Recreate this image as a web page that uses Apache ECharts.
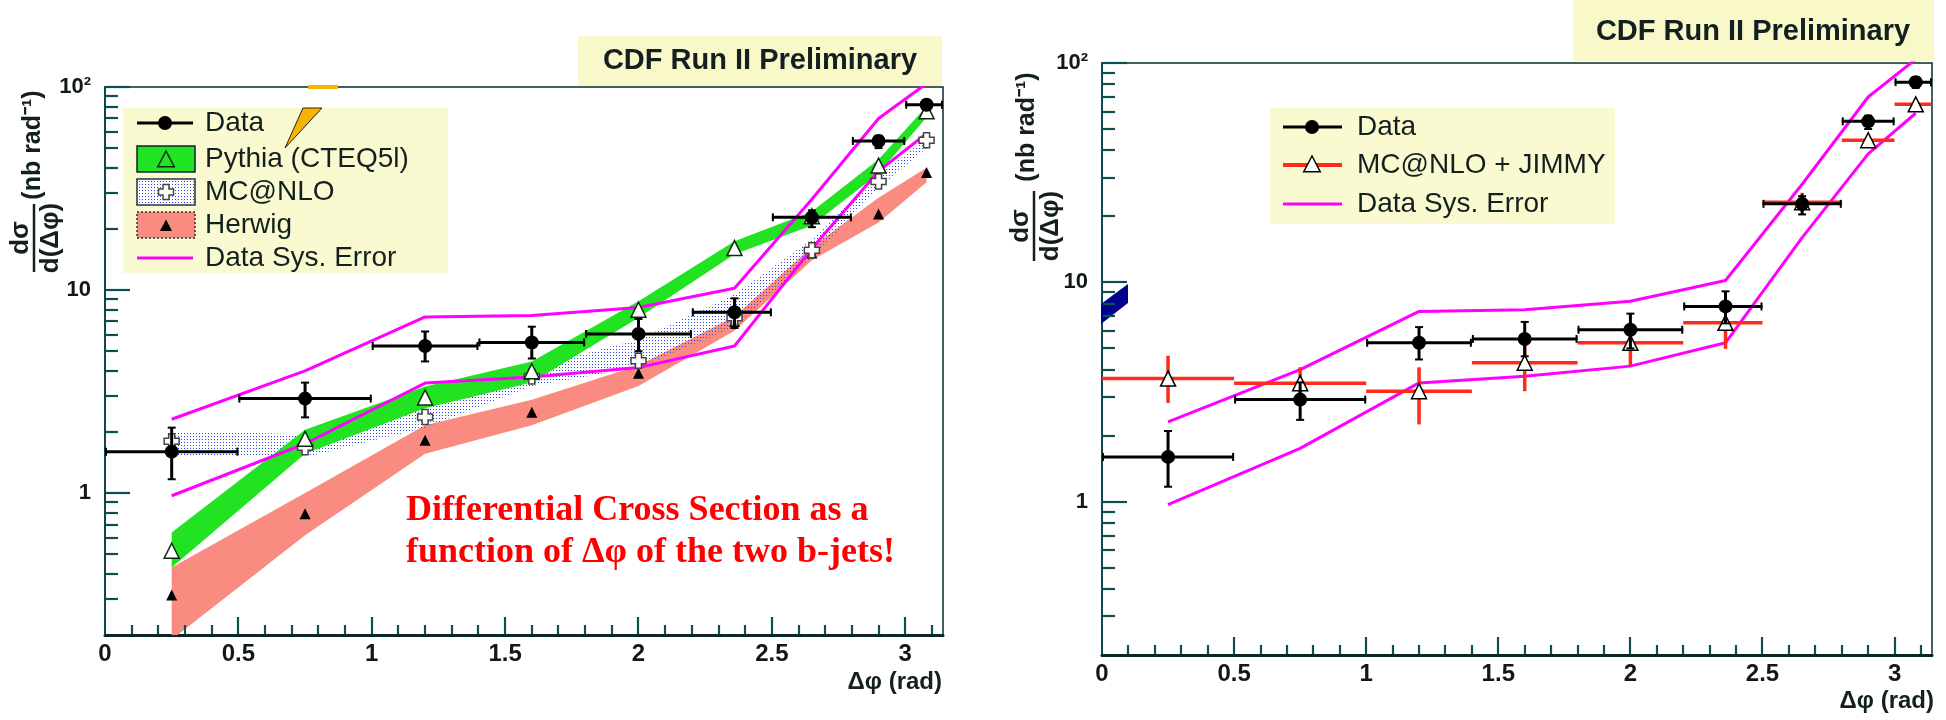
<!DOCTYPE html>
<html><head><meta charset="utf-8">
<script src="https://cdn.jsdelivr.net/npm/echarts@6/dist/echarts.min.js"></script>
<style>html,body{margin:0;padding:0;background:#fff}#c{width:1946px;height:720px}</style>
</head><body><div id="c"></div>
<script>
// ---------------- data ----------------
const xCenters   = [0.25, 0.75, 1.2, 1.6, 2.0, 2.36, 2.65, 2.9, 3.08];
const binLow     = [0, 0.5, 1.0, 1.4, 1.8, 2.2, 2.5, 2.8, 3.0];
const binHigh    = [0.5, 1.0, 1.4, 1.8, 2.2, 2.5, 2.8, 3.0, 3.1416];
const dataVal     = [1.60, 2.92, 5.30, 5.52, 6.08, 7.77, 22.8, 54.2, 81.8];
const dataErrLow  = [1.17, 2.36, 4.45, 4.60, 5.00, 6.50, 20.4, 50.0, 77.0];
const dataErrHigh = [2.10, 3.50, 6.25, 6.60, 7.20, 9.10, 24.7, 57.5, 86.0];
const sysUpper = [2.31, 4.0, 7.37, 7.5, 8.2, 10.2, 28, 70, 104];
const sysLower = [0.97, 1.75, 3.48, 3.73, 4.15, 5.3, 16, 38.5, 59];
const pythiaVal  = [0.52, 1.85, 2.96, 3.98, 8.0, 16.1, 23.1, 41.0, 75.9];
const pythiaLow  = [0.43, 1.56, 2.62, 3.50, 7.3, 15.0, 20.8, 37.5, 71];
const pythiaHigh = [0.64, 2.05, 3.35, 4.45, 8.8, 17.4, 24.4, 44.0, 80.5];
const mcnloVal  = [1.80, 1.68, 2.37, 3.75, 4.48, 7.3, 15.7, 34.2, 54.7];
const mcnloLow  = [1.54, 1.50, 2.10, 3.37, 4.15, 6.6, 14.5, 31.6, 50];
const mcnloHigh = [2.02, 1.95, 2.66, 4.15, 5.70, 9.5, 17.8, 37, 56];
const herwigVal  = [0.315, 0.79, 1.82, 2.50, 3.89, 7.0, 15.2, 23.7, 37.9];
const herwigLow  = [0.19, 0.62, 1.56, 2.16, 3.37, 6.3, 14.0, 21.5, 34];
const herwigHigh = [0.43, 1.0, 2.16, 2.88, 4.25, 7.4, 16.3, 28.5, 40];
const jimmyVal     = [3.64, 3.47, 3.19, 4.30, 5.30, 6.54, 23.2, 44.5, 64.8];
const jimmyErrLow  = [2.82, 2.95, 2.25, 3.19, 4.14, 4.98, 21.1, 42.5, 62.5];
const jimmyErrHigh = [4.63, 4.10, 4.10, 5.27, 5.89, 6.97, 25.6, 46.5, 67];
// tick labels / tick positions
const xLabelValues = [0, 0.5, 1, 1.5, 2, 2.5, 3];
const xLabelTexts  = ['0', '0.5', '1', '1.5', '2', '2.5', '3'];
const yLabelValues = [1, 10, 100];
const yLabelTexts  = ['1', '10', '10²'];
const xMajorTicks = [0.5, 1, 1.5, 2, 2.5, 3];
const xMinorTicks = [0.1,0.2,0.3,0.4,0.6,0.7,0.8,0.9,1.1,1.2,1.3,1.4,1.6,1.7,1.8,1.9,2.1,2.2,2.3,2.4,2.6,2.7,2.8,2.9,3.1];
const yMajorTicks = [1, 10, 100];
const yMinorTicks = [0.3,0.4,0.5,0.6,0.7,0.8,0.9,2,3,4,5,6,7,8,9,20,30,40,50,60,70,80,90];

// ---------------- styles ----------------
const FONT = 'Liberation Sans';
const TICK_COLOR = '#0b4f4f';
const GREEN = '#22e322';
const SALMON = '#f98b80';
const MAGENTA = '#ff00ff';
const RED = '#ff2a1a';
const YEL = '#fafad0';

const pc = document.createElement('canvas'); pc.width = 3; pc.height = 3;
const pctx = pc.getContext('2d'); pctx.fillStyle = '#2a48e6';
pctx.fillRect(1,1,1,1);
const DOTS = {image: pc, repeat: 'repeat'};

const CROSS_PATH = 'path://M3,0 L7,0 L7,3 L10,3 L10,7 L7,7 L7,10 L3,10 L3,7 L0,7 L0,3 L3,3 Z';

function bandSeries(name, ai, lo, hi, fill, z) {
  return {
    type: 'custom', name, xAxisIndex: ai, yAxisIndex: ai, clip: true, z, silent: true,
    data: xCenters.map((x, i) => [x, lo[i], hi[i]]),
    encode: {x: 0, y: [1, 2]},
    renderItem: (params, api) => {
      if (params.dataIndex !== 0) return {type: 'group', children: []};
      const up = xCenters.map((x, i) => api.coord([x, hi[i]]));
      const dn = xCenters.map((x, i) => api.coord([x, lo[i]])).reverse();
      return {type: 'polygon', shape: {points: up.concat(dn)}, style: {fill, stroke: null}};
    }
  };
}

function errSeries(name, ai, vals, elo, ehi, color, width, caps, z) {
  return {
    type: 'custom', name, xAxisIndex: ai, yAxisIndex: ai, clip: true, z, silent: true,
    data: xCenters.map((x, i) => [x, vals[i], binLow[i], binHigh[i], elo[i], ehi[i]]),
    encode: {x: 0, y: 1},
    renderItem: (params, api) => {
      const c = api.coord([api.value(0), api.value(1)]);
      const l = api.coord([api.value(2), api.value(1)]);
      const r = api.coord([api.value(3), api.value(1)]);
      const b = api.coord([api.value(0), api.value(4)]);
      const t = api.coord([api.value(0), api.value(5)]);
      const st = {stroke: color, lineWidth: width};
      const ch = [
        {type: 'line', shape: {x1: l[0], y1: c[1], x2: r[0], y2: c[1]}, style: st},
        {type: 'line', shape: {x1: c[0], y1: b[1], x2: c[0], y2: t[1]}, style: st}
      ];
      if (caps) {
        const k = 4;
        ch.push({type: 'line', shape: {x1: c[0]-k, y1: b[1], x2: c[0]+k, y2: b[1]}, style: {stroke: color, lineWidth: 2}});
        ch.push({type: 'line', shape: {x1: c[0]-k, y1: t[1], x2: c[0]+k, y2: t[1]}, style: {stroke: color, lineWidth: 2}});
        ch.push({type: 'line', shape: {x1: l[0]+1, y1: c[1]-k, x2: l[0]+1, y2: c[1]+k}, style: {stroke: color, lineWidth: 2}});
        ch.push({type: 'line', shape: {x1: r[0]-1, y1: c[1]-k, x2: r[0]-1, y2: c[1]+k}, style: {stroke: color, lineWidth: 2}});
      }
      return {type: 'group', children: ch};
    }
  };
}

function sysSeries(name, ai, vals) {
  return {type: 'line', name, xAxisIndex: ai, yAxisIndex: ai, z: 4, silent: true,
    data: xCenters.map((x, i) => [x, vals[i]]), symbol: 'none', clip: true,
    lineStyle: {color: MAGENTA, width: 3}};
}

function markerSeries(name, ai, vals, symbol, size, fill, border, bw, z) {
  return {type: 'scatter', name, xAxisIndex: ai, yAxisIndex: ai, z, silent: true,
    data: xCenters.map((x, i) => [x, vals[i]]), symbol, symbolSize: size,
    itemStyle: {color: fill, borderColor: border, borderWidth: bw, opacity: 1}};
}

function xAxisDef(gi) {
  return {type: 'value', gridIndex: gi, min: 0, max: Math.PI, interval: 0.5, position: 'bottom',
    axisLine: {show: true, onZero: false, lineStyle: {color: '#0a2626', width: 3}},
    axisTick: {show: false}, splitLine: {show: false},
    axisLabel: {margin: 7, fontSize: 24, fontWeight: 'bold', color: '#101818', fontFamily: FONT,
      formatter: v => { const i = xLabelValues.findIndex(t => Math.abs(t - v) < 1e-9); return i < 0 ? '' : xLabelTexts[i]; }}};
}
function yAxisDef(gi) {
  return {type: 'log', logBase: 10, gridIndex: gi, min: 0.2, max: 100, position: 'left',
    axisLine: {show: true, onZero: false, lineStyle: {color: '#0b4a4a', width: 2}},
    axisTick: {show: false}, splitLine: {show: false},
    axisLabel: {margin: 14, fontSize: 22, fontWeight: 'bold', color: '#101818', fontFamily: FONT,
      formatter: v => { const i = yLabelValues.findIndex(t => Math.abs(t - v) / t < 1e-6); return i < 0 ? '' : yLabelTexts[i]; }}};
}

// ---------------- graphics (text, legends, boxes) ----------------
function txt(x, y, text, size, opts) {
  opts = opts || {};
  return {type: 'text', x, y, rotation: opts.rot || 0, z: 20, silent: true,
    style: {text, fontSize: size, fontWeight: opts.weight || 'normal', fontFamily: opts.family || FONT,
      fill: opts.color || '#142020', align: opts.align || 'left', textAlign: opts.align || 'left',
      verticalAlign: 'middle', textVerticalAlign: 'middle'}};
}
function rect(x, y, w, h, fill, stroke, lw, dash) {
  return {type: 'rect', z: 15, silent: true, shape: {x, y, width: w, height: h},
    style: {fill, stroke: stroke || null, lineWidth: lw || 0, lineDash: dash || null}};
}
function line(x1, y1, x2, y2, color, w, z) {
  return {type: 'line', z: z || 16, silent: true, shape: {x1, y1, x2, y2}, style: {stroke: color, lineWidth: w}};
}
function tri(cx, cy, s, fill, stroke) {
  return {type: 'polygon', z: 17, silent: true,
    shape: {points: [[cx, cy - s * 0.6], [cx + s * 0.55, cy + s * 0.45], [cx - s * 0.55, cy + s * 0.45]]},
    style: {fill, stroke: stroke || null, lineWidth: 1.5}};
}
function crossG(cx, cy, s) {
  const a = s * 0.2, b = s * 0.5;
  return {type: 'polygon', z: 17, silent: true,
    shape: {points: [[cx-a,cy-b],[cx+a,cy-b],[cx+a,cy-a],[cx+b,cy-a],[cx+b,cy+a],[cx+a,cy+a],[cx+a,cy+b],[cx-a,cy+b],[cx-a,cy+a],[cx-b,cy+a],[cx-b,cy-a],[cx-a,cy-a]]},
    style: {fill: '#fff', stroke: '#444', lineWidth: 1.5}};
}

const graphics = [
  rect(578, 36, 364, 50, '#f8f8c8'),
  txt(760, 61, 'CDF Run II Preliminary', 29, {weight: 'bold', align: 'center'}),
  rect(1573, 0, 361, 61, '#f8f8c8'),
  txt(1753, 32, 'CDF Run II Preliminary', 29, {weight: 'bold', align: 'center'}),
  rect(123, 108, 325, 165, YEL),
  line(137, 123, 193, 123, '#000', 3),
  {type: 'circle', z: 17, silent: true, shape: {cx: 165, cy: 123, r: 7}, style: {fill: '#000'}},
  txt(205, 123, 'Data', 28),
  rect(137, 146, 58, 26, GREEN, '#123', 1.5),
  tri(166, 160, 15, 'none', '#0c2a0c'),
  txt(205, 159, 'Pythia (CTEQ5l)', 28),
  rect(137, 179, 58, 26, '#fff', '#234', 1.5),
  rect(137, 179, 58, 26, DOTS),
  crossG(166, 192, 15),
  txt(205, 192, 'MC@NLO', 28),
  rect(137, 212, 58, 26, SALMON, '#333', 1.5, [2, 2]),
  tri(166, 226, 11, '#000'),
  txt(205, 225, 'Herwig', 28),
  line(137, 258, 193, 258, MAGENTA, 3),
  txt(205, 258, 'Data Sys. Error', 28),
  rect(1270, 108, 345, 116, YEL),
  line(1283, 127, 1342, 127, '#000', 3),
  {type: 'circle', z: 17, silent: true, shape: {cx: 1312, cy: 127, r: 7}, style: {fill: '#000'}},
  txt(1357, 127, 'Data', 28),
  line(1283, 165, 1342, 165, RED, 4),
  tri(1312, 165, 15, '#fff', '#000'),
  txt(1357, 165, 'MC@NLO + JIMMY', 28),
  line(1283, 204, 1342, 204, MAGENTA, 3),
  txt(1357, 204, 'Data Sys. Error', 28),
  txt(33, 145, '(nb rad⁻¹)', 25, {weight: 'bold', align: 'center', rot: Math.PI / 2}),
  txt(21, 238, 'dσ', 26, {weight: 'bold', align: 'center', rot: Math.PI / 2}),
  line(34, 204, 34, 272, '#142020', 2.5),
  txt(51, 238, 'd(Δφ)', 26, {weight: 'bold', align: 'center', rot: Math.PI / 2}),
  txt(1027, 127, '(nb rad⁻¹)', 25, {weight: 'bold', align: 'center', rot: Math.PI / 2}),
  txt(1021, 226, 'dσ', 26, {weight: 'bold', align: 'center', rot: Math.PI / 2}),
  line(1034, 191, 1034, 261, '#142020', 2.5),
  txt(1051, 226, 'd(Δφ)', 26, {weight: 'bold', align: 'center', rot: Math.PI / 2}),
  txt(942, 682, 'Δφ (rad)', 24, {weight: 'bold', align: 'right'}),
  txt(1934, 701, 'Δφ (rad)', 24, {weight: 'bold', align: 'right'}),
  txt(406, 511, 'Differential Cross Section as a', 36, {weight: 'bold', family: 'Liberation Serif', color: '#ff0000'}),
  txt(406, 553, 'function of Δφ of the two b-jets!', 36, {weight: 'bold', family: 'Liberation Serif', color: '#ff0000'}),
  {type: 'polygon', z: 18, silent: true, shape: {points: [[285, 148], [303, 108], [322, 108]]}, style: {fill: '#f6b400', stroke: '#222', lineWidth: 1}},
  rect(308, 85, 30, 4, '#f6b400'),
  {type: 'polygon', z: 18, silent: true, shape: {points: [[1101, 304], [1128, 284], [1128, 303], [1101, 324]]}, style: {fill: '#00008c'}}
];

const option = {
  animation: false,
  backgroundColor: '#ffffff',
  textStyle: {fontFamily: FONT},
  grid: [
    {left: 105, top: 87, width: 838, height: 548, show: true, borderColor: '#0a2a2a', borderWidth: 1.5, backgroundColor: 'transparent'},
    {left: 1102, top: 63, width: 830, height: 592, show: true, borderColor: '#0a2a2a', borderWidth: 1.5, backgroundColor: 'transparent'}
  ],
  xAxis: [xAxisDef(0), xAxisDef(1)],
  yAxis: [yAxisDef(0), yAxisDef(1)],
  graphic: graphics,
  series: [
    bandSeries('Herwig', 0, herwigLow, herwigHigh, SALMON, 1),
    bandSeries('MC@NLO', 0, mcnloLow, mcnloHigh, DOTS, 2),
    bandSeries('Pythia (CTEQ5l)', 0, pythiaLow, pythiaHigh, GREEN, 3),
    sysSeries('Data Sys. Error', 0, sysUpper),
    sysSeries('Data Sys. Error', 0, sysLower),
    markerSeries('Herwig', 0, herwigVal, 'triangle', 11, '#000', '#000', 0, 5),
    markerSeries('MC@NLO', 0, mcnloVal, CROSS_PATH, 15, '#fff', '#444', 1.5, 5),
    markerSeries('Pythia (CTEQ5l)', 0, pythiaVal, 'triangle', 15, '#fff', '#0c2a0c', 1.5, 5),
    errSeries('Data', 0, dataVal, dataErrLow, dataErrHigh, '#000', 3, true, 6),
    markerSeries('Data', 0, dataVal, 'circle', 14, '#000', '#000', 0, 7),
    sysSeries('Data Sys. Error', 1, sysUpper),
    sysSeries('Data Sys. Error', 1, sysLower),
    errSeries('MC@NLO + JIMMY', 1, jimmyVal, jimmyErrLow, jimmyErrHigh, RED, 3.5, false, 5),
    markerSeries('MC@NLO + JIMMY', 1, jimmyVal, 'triangle', 15, '#fff', '#000', 1.5, 5),
    errSeries('Data', 1, dataVal, dataErrLow, dataErrHigh, '#000', 3, true, 6),
    markerSeries('Data', 1, dataVal, 'circle', 14, '#000', '#000', 0, 7)
  ]
};
const chart = echarts.init(document.getElementById('c'));
chart.setOption(option);

// ROOT-style ticks (inside the frame), positioned through the axes' own scales
const tickEls = [];
[0, 1].forEach(g => {
  const finder = {xAxisIndex: g, yAxisIndex: g};
  const addX = (v, len) => { const p = chart.convertToPixel(finder, [v, 0.2]); tickEls.push(line(Math.round(p[0]), p[1] - 1, Math.round(p[0]), p[1] - len, TICK_COLOR, 2.2, 30)); };
  const addY = (v, len) => { const p = chart.convertToPixel(finder, [0, v]); tickEls.push(line(p[0] + 1, Math.round(p[1]), p[0] + len, Math.round(p[1]), TICK_COLOR, 2.2, 30)); };
  xMajorTicks.forEach(v => addX(v, 18));
  xMinorTicks.forEach(v => addX(v, 10));
  yMajorTicks.forEach(v => addY(v, 25));
  yMinorTicks.forEach(v => addY(v, 13));
});
chart.setOption({graphic: graphics.concat(tickEls)});
</script>
</body></html>
